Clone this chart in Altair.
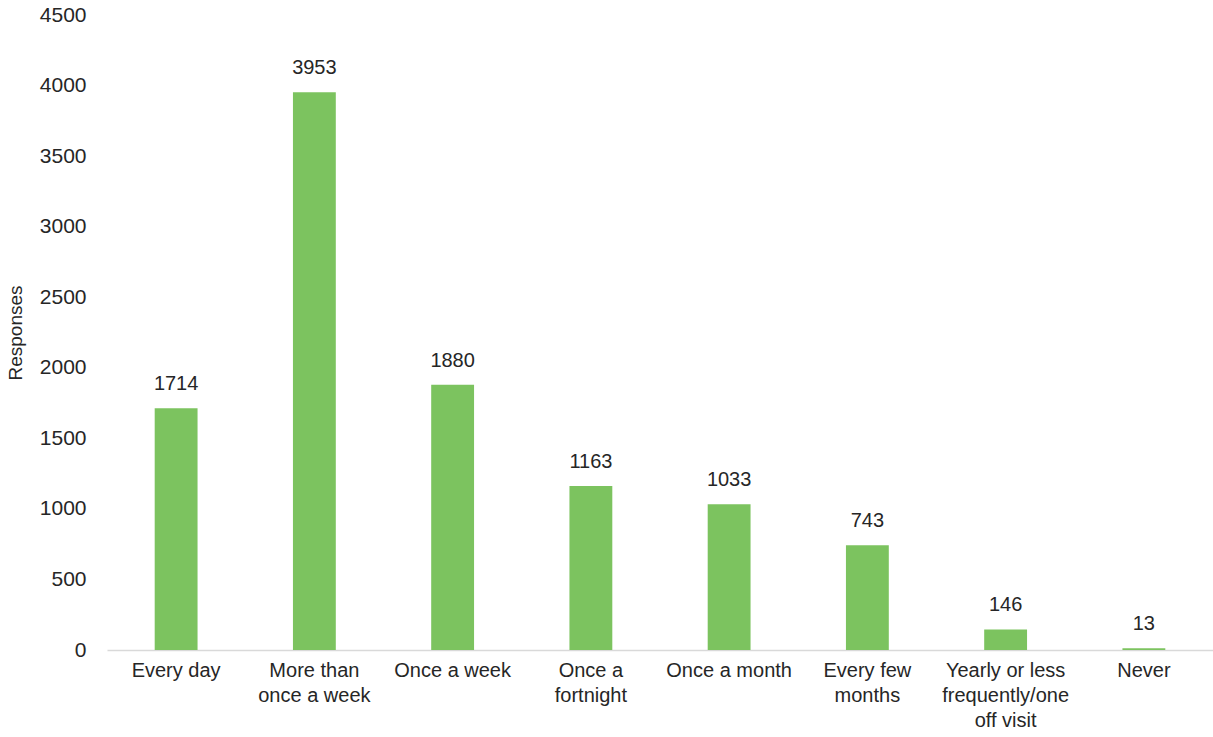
import altair as alt
import pandas as pd

categories = ["Every day", "More than\nonce a week", "Once a week", "Once a\nfortnight",
              "Once a month", "Every few\nmonths", "Yearly or less\nfrequently/one\noff visit", "Never"]
responses = [1714, 3953, 1880, 1163, 1033, 743, 146, 13]

df = pd.DataFrame({"cat": categories, "val": responses})

FONT = "Liberation Sans"
x = alt.X("cat:N", sort=categories, title=None,
          scale=alt.Scale(paddingInner=0.69, paddingOuter=0.345),
          axis=alt.Axis(labelAngle=0, labelExpr="split(datum.label, '\\n')",
                        labelFontSize=20, labelColor="#262626", labelFont=FONT,
                        labelLineHeight=25, labelPadding=10, ticks=False,
                        domainColor="#D9D9D9", domainWidth=1.5, labelBaseline="top"))
y = alt.Y("val:Q", title="Responses",
          scale=alt.Scale(domain=[0, 4500], nice=False),
          axis=alt.Axis(values=list(range(0, 4501, 500)), format="d", grid=False, domain=False,
                        ticks=False,
                        labelFontSize=21, labelColor="#262626", labelFont=FONT, labelPadding=21,
                        titleFontSize=19, titleFont=FONT, titleFontWeight="normal",
                        titleColor="#262626", titlePadding=14))

bars = alt.Chart(df).mark_bar(color="#7CC35F").encode(x=x, y=y)
labels = alt.Chart(df).mark_text(dy=-14, fontSize=20, font=FONT, color="#262626",
                                 baseline="bottom").encode(x=x, y=y, text="val:Q")

chart = (bars + labels).properties(
    width=1106, height=635,
    autosize=alt.AutoSizeParams(type="none"),
    padding={"left": 107, "top": 15, "right": 0, "bottom": 87},
).configure_view(stroke=None)

chart.save("out.html", embed_options={"renderer": "svg", "actions": False})
